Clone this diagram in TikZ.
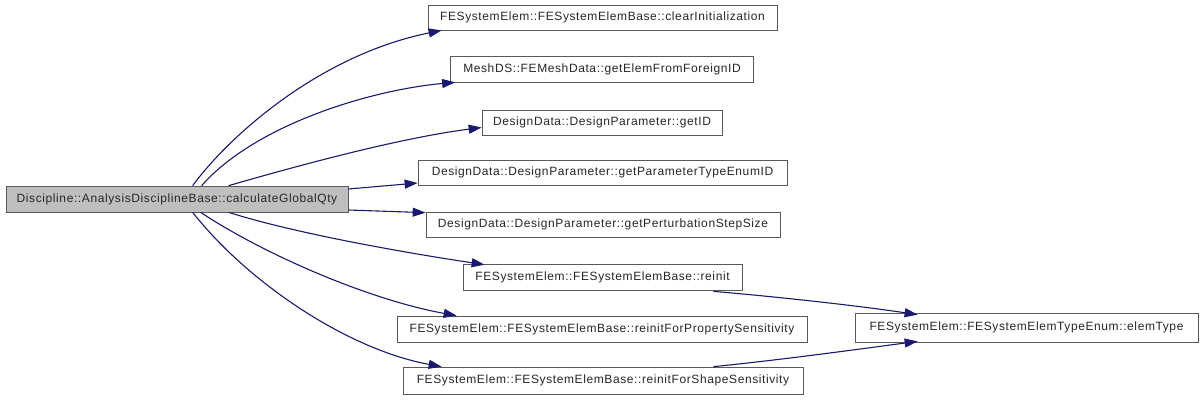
\documentclass[tikz,border=0pt]{standalone}
\usepackage{fontspec}
\setmainfont{Liberation Sans}[LetterSpace=5]
\usetikzlibrary{arrows.meta,calc}
\definecolor{edgeblue}{HTML}{191970}
\definecolor{mainfill}{HTML}{BFBFBF}
\begin{document}
\begin{tikzpicture}[x=1bp,y=-1bp,
  box/.style={draw=black!65,line width=0.7bp,fill=white,inner sep=0pt,
    font=\fontsize{12bp}{14bp}\selectfont,text=black!85},
  edge/.style={draw=edgeblue,line width=1.1bp,
    -{Triangle[length=13bp,width=9bp]}}]
\useasboundingbox (0,0) rectangle (1203,401);
\fill[white] (0,0) rectangle (1203,401);
\node[box,fill=mainfill,minimum width=342bp,minimum height=26bp] (main) at (177,199) {Discipline::AnalysisDisciplineBase::calculateGlobalQty};
\node[box,minimum width=349bp,minimum height=25bp] (b1) at (602.5,17.5) {FESystemElem::FESystemElemBase::clearInitialization};
\node[box,minimum width=303bp,minimum height=26bp] (b2) at (602,69) {MeshDS::FEMeshData::getElemFromForeignID};
\node[box,minimum width=240bp,minimum height=25bp] (b3) at (602,122.5) {DesignData::DesignParameter::getID};
\node[box,minimum width=369bp,minimum height=25bp] (b4) at (602.5,172.5) {DesignData::DesignParameter::getParameterTypeEnumID};
\node[box,minimum width=354bp,minimum height=25bp] (b5) at (603,224.5) {DesignData::DesignParameter::getPerturbationStepSize};
\node[box,minimum width=279bp,minimum height=26bp] (b6) at (602.5,277) {FESystemElem::FESystemElemBase::reinit};
\node[box,minimum width=410bp,minimum height=26bp] (b7) at (602,329) {FESystemElem::FESystemElemBase::reinitForPropertySensitivity};
\node[box,minimum width=400bp,minimum height=27bp] (b8) at (603,380.5) {FESystemElem::FESystemElemBase::reinitForShapeSensitivity};
\node[box,minimum width=343bp,minimum height=29bp] (b9) at (1026.5,327.5) {FESystemElem::FESystemElemTypeEnum::elemType};
% edges
\draw[edge] ($(main.north west)+(187,0)$) .. controls (230,135) and (320,55) .. ($(b1.south west)+(14,0)$);
\draw[edge] ($(main.north west)+(196,0)$) .. controls (255,125) and (370,90) .. ($(b2.south west)+(5,0)$);
\draw[edge] ($(main.north west)+(223,0)$) .. controls (300,165) and (400,138) .. ($(b3.west)+(0,5)$);
\draw[edge] ($(main.east)+(0,-10)$) -- ($(b4.west)+(0,10.5)$);
\draw[edge] ($(main.east)+(0,11)$) -- ($(b5.north west)+(0,1)$);
\draw[edge] ($(main.south west)+(223,0)$) .. controls (300,235) and (420,255) .. ($(b6.north west)+(22,1)$);
\draw[edge] ($(main.south west)+(195,0)$) .. controls (265,255) and (370,300) .. ($(b7.north west)+(60,0)$);
\draw[edge] ($(main.south west)+(187,0)$) .. controls (250,285) and (350,350) .. ($(b8.north west)+(39,0)$);
\draw[edge] ($(b6.south east)+(-29,1)$) .. controls (780,297) and (860,306) .. ($(b9.north west)+(63,2)$);
\draw[edge] ($(b8.north east)+(-90,0)$) .. controls (780,360) and (860,349) .. ($(b9.south west)+(63,-1)$);
\end{tikzpicture}
\end{document}
